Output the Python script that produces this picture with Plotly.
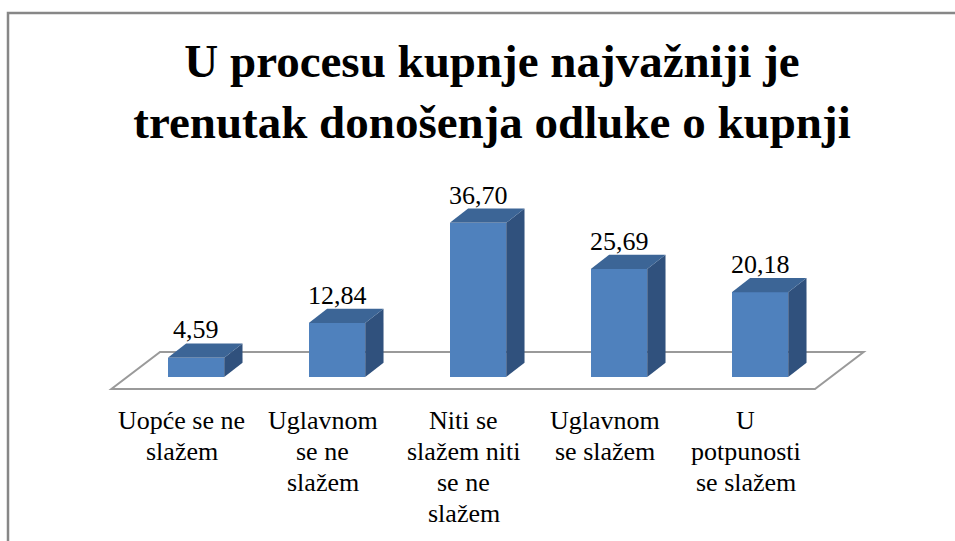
import plotly.graph_objects as go

# Survey answers and their shares (%)
categories = [
    ["Uopće se ne", "slažem"],
    ["Uglavnom", "se ne", "slažem"],
    ["Niti se", "slažem niti", "se ne", "slažem"],
    ["Uglavnom", "se slažem"],
    ["U", "potpunosti", "se slažem"],
]
values = [4.59, 12.84, 36.70, 25.69, 20.18]
title_lines = ["U procesu kupnje najvažniji je", "trenutak donošenja odluke o kupnji"]

# Figure geometry
W, H = 955, 541
ML, MR, MT, MB = 55, 54, 188, 143
X_RANGE = [-1, 5]
Y_RANGE = [-5, 45]

# Pseudo-3D look: front face width and depth offsets in data units
BAR_W = 0.40
DX = 0.13
DY = 3.4

# Floor parallelogram (data units)
FLOOR_FRONT_Y = -2.86
FLOOR_BACK_Y = 5.95
FLOOR_LEFT = -0.60
FLOOR_RIGHT = 4.39
FLOOR_SKEW = 0.345

FRONT = "#4F81BD"
TOP = "#3C6596"
SIDE = "#30517D"
SERIF = "Liberation Serif"
LABEL_LINE = 31

xs = list(range(len(values)))

fig = go.Figure()

# Front faces
fig.add_trace(go.Bar(
    x=xs, y=values, width=BAR_W,
    marker=dict(color=FRONT, line=dict(width=0)),
    hoverinfo="skip", showlegend=False,
))

# Side and top faces derived from each value
for x, v in zip(xs, values):
    r = x + BAR_W / 2
    l = x - BAR_W / 2
    fig.add_trace(go.Scatter(
        x=[r, r + DX, r + DX, r, r], y=[0, DY, v + DY, v, 0],
        mode="lines", fill="toself", fillcolor=SIDE,
        line=dict(width=0, color=SIDE), hoverinfo="skip", showlegend=False,
    ))
    fig.add_trace(go.Scatter(
        x=[l, r, r + DX, l + DX, l], y=[v, v, v + DY, v + DY, v],
        mode="lines", fill="toself", fillcolor=TOP,
        line=dict(width=0, color=TOP), hoverinfo="skip", showlegend=False,
    ))

# Floor outline, drawn beneath the bars
floor_path = (
    f"M {FLOOR_LEFT},{FLOOR_FRONT_Y} L {FLOOR_RIGHT},{FLOOR_FRONT_Y} "
    f"L {FLOOR_RIGHT + FLOOR_SKEW},{FLOOR_BACK_Y} L {FLOOR_LEFT + FLOOR_SKEW},{FLOOR_BACK_Y} Z"
)
fig.add_shape(type="path", path=floor_path, xref="x", yref="y", layer="below",
              line=dict(color="#9a9a9a", width=2), fillcolor="rgba(0,0,0,0)")

# Value labels above each bar
for x, v in zip(xs, values):
    fig.add_annotation(
        x=x, y=v + DY, xref="x", yref="y", yanchor="bottom", yshift=-3,
        text=f"{v:.2f}".replace(".", ","), showarrow=False,
        font=dict(family=SERIF, size=26, color="#000000"),
    )

# Category labels under the floor's front edge, one line at a time
for x, lines in zip(xs, categories):
    for k, line in enumerate(lines):
        fig.add_annotation(
            x=x - 0.1, y=FLOOR_FRONT_Y, xref="x", yref="y", yanchor="top",
            yshift=-15 - LABEL_LINE * k,
            text=line, showarrow=False, align="center",
            font=dict(family=SERIF, size=26, color="#000000"),
        )

# Chart-area border (left and top edges visible)
pw = W - ML - MR
ph = H - MT - MB
def px_to_paper_x(px):
    return (px - ML) / pw
def px_to_paper_y(py):
    return (H - MB - py) / ph
bx0, by0 = px_to_paper_x(8), px_to_paper_y(13)
bx1, by1 = px_to_paper_x(W + 10), px_to_paper_y(H + 10)
fig.add_shape(type="path", xref="paper", yref="paper",
              path=f"M {bx0},{by1} L {bx0},{by0} L {bx1},{by0}",
              line=dict(color="#878787", width=2.5))

fig.update_layout(
    width=W, height=H, autosize=False,
    margin=dict(l=ML, r=MR, t=MT, b=MB),
    paper_bgcolor="white", plot_bgcolor="white",
    title=dict(
        text="<b>" + "<br>".join(title_lines) + "</b>",
        x=492 / W, xanchor="center", xref="container",
        y=1 - 77 / H, yanchor="top", yref="container",
        font=dict(family=SERIF, size=47, color="#000000"),
    ),
    xaxis=dict(range=X_RANGE, visible=False, fixedrange=True),
    yaxis=dict(range=Y_RANGE, visible=False, fixedrange=True),
    bargap=0,
)

fig.write_html("out.html")
